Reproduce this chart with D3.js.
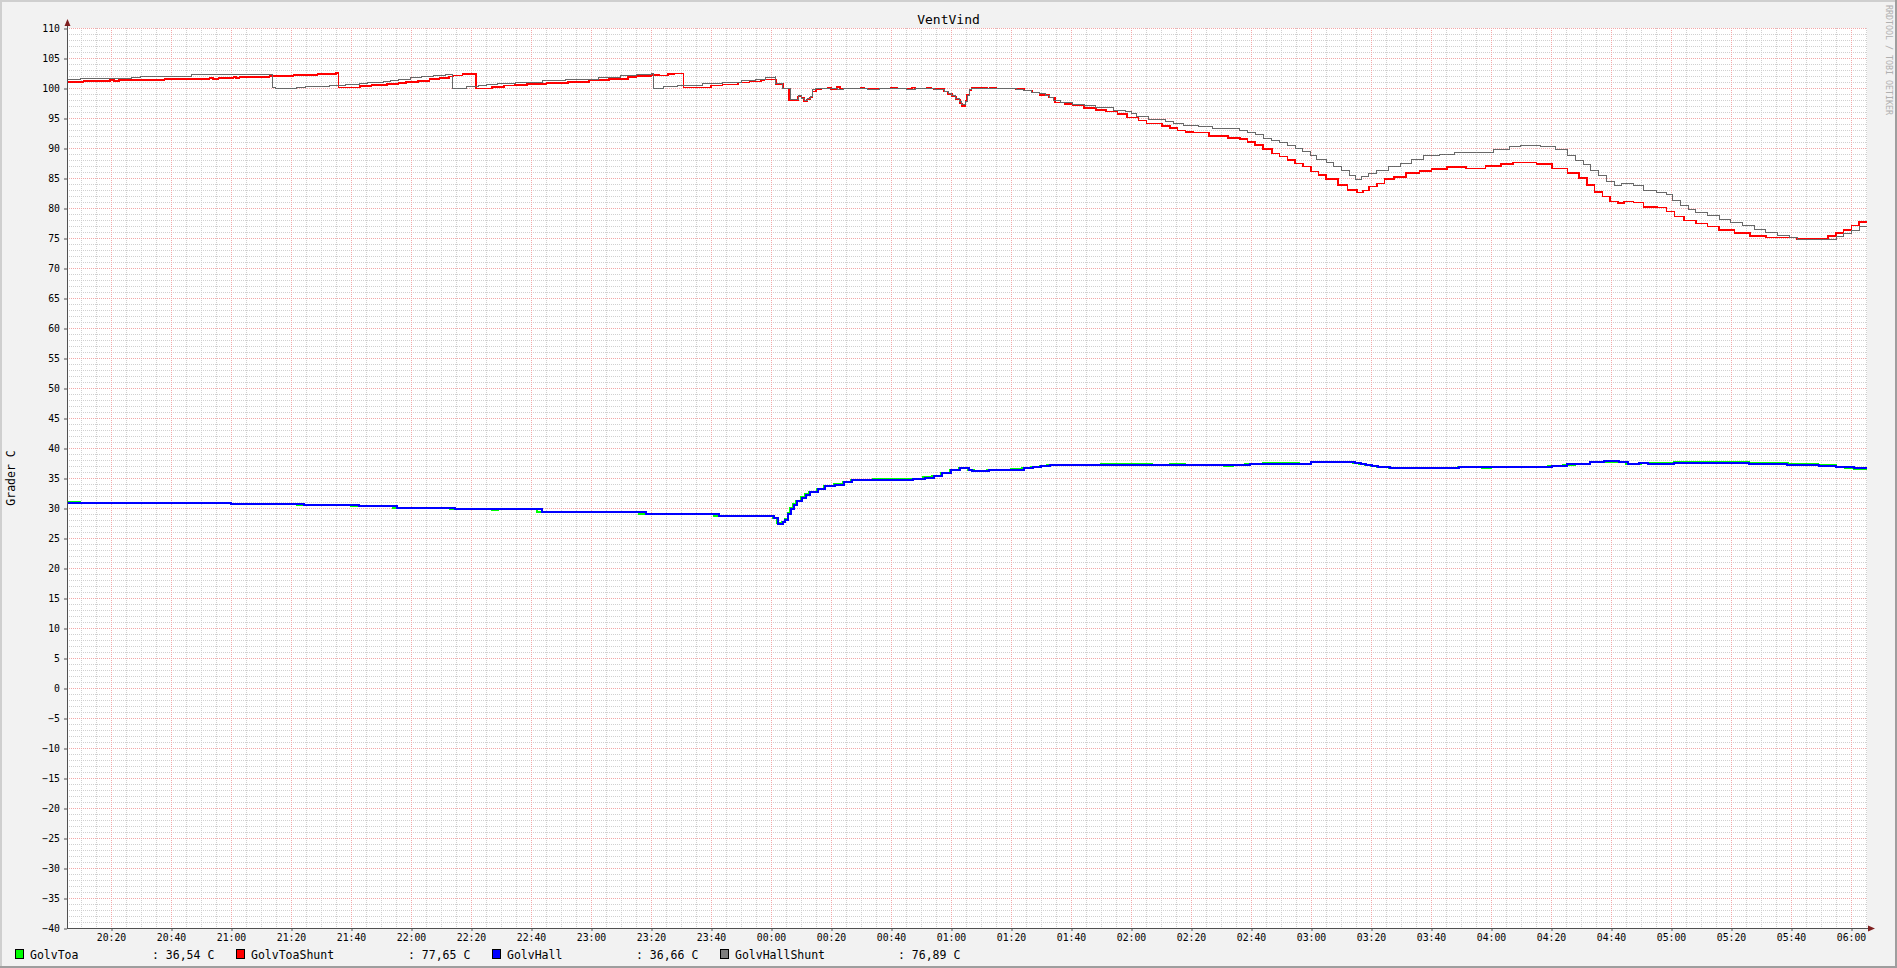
<!DOCTYPE html>
<html>
<head>
<meta charset="utf-8">
<script src="https://cdnjs.cloudflare.com/ajax/libs/d3/7.8.5/d3.min.js"></script>
<style>
  html, body { margin: 0; padding: 0; background: #f2f2f2; }
  svg { display: block; }
  text { font-family: "DejaVu Sans Mono", monospace; }
</style>
</head>
<body>
<svg id="chart" width="1897" height="968"></svg>
<script>
// ---------- DATA (minutes after 20:00, value in °C), step series ----------
const chartTitle = "VentVind";
const yAxisTitle = "Grader C";
const watermark = "RRDTOOL / TOBI OETIKER";
const startMinute = 5.333;   // 20:05:20
const endMinute = 605.333;   // 06:05:20

const yTicks = [-40,-35,-30,-25,-20,-15,-10,-5,0,5,10,15,20,25,30,35,40,45,50,55,60,65,70,75,80,85,90,95,100,105,110];
const xTickLabels = ["20:20","20:40","21:00","21:20","21:40","22:00","22:20","22:40","23:00","23:20","23:40",
  "00:00","00:20","00:40","01:00","01:20","01:40","02:00","02:20","02:40","03:00","03:20","03:40",
  "04:00","04:20","04:40","05:00","05:20","05:40","06:00"];

const seriesNames = ["GolvToa", "GolvToaShunt", "GolvHall", "GolvHallShunt"];
const seriesColors = ["#00ff00", "#ff0000", "#0000ff", "#7f7f7f"];
const lineColors = ["#00ff00", "#ff0000", "#0000ff", "#686868"];
const lastValues = ["36,54 C", "77,65 C", "36,66 C", "76,89 C"];

const golvToa = [
  [5.33,30.95],[9.8,30.9],[17,30.8],[60,30.75],[68,30.7],[82,30.5],[100,30.3],[104,30.35],[106,30.3],
  [114,30.05],[123,30.0],[125,30.05],[133,29.8],[147,29.75],[149,29.8],[162,29.4],[181,29.3],[184,29.4],
  [196,29.05],[209,29.0],[211,29.05],[221,28.7],[233,28.65],[235,28.7],[240.5,28.4],[242,27.5],[243.6,27.7],
  [244.5,28.1],[245.5,29.1],[246.4,30.0],[247.4,30.6],[248.2,31.2],[249.9,31.8],[251.4,32.3],[252.8,32.7],
  [255.2,33.2],[257.7,33.65],[261,34.0],[263.9,34.35],[266.8,34.65],[274,34.8],[287,34.85],[290.8,35.1],
  [293.8,35.35],[296.8,35.85],[299.7,36.35],[302.6,36.75],[304.2,36.6],[305.6,36.3],[307.5,36.1],[312,36.35],
  [320,36.45],[323.8,36.65],[326.8,36.85],[329.7,37.05],[332,37.25],[350,37.35],[367,37.2],[373,37.3],[378,37.2],
  [391,37.05],[394,37.1],[398,37.3],[404,37.45],[412,37.5],[416,37.4],[420,37.7],[430,37.6],[434,37.55],
  [436,37.3],[438,37.15],[440,36.95],[442,36.85],[446,36.65],[450,36.6],[466,36.7],[469,36.8],[477,36.75],
  [480,36.8],[495,36.85],[499,37.0],[504,37.2],[508,37.35],[513,37.6],[516,37.75],[522,37.6],[525,37.4],
  [530,37.55],[533,37.45],[541,37.6],[566,37.5],[579,37.3],[589,37.1],[595,36.85],[598,36.7],[601,36.54]
];

const golvToaShunt = [
  [5.33,101.0],[10.8,101.17],[19.7,101.33],[21,101.17],[22.7,101.33],[37.8,101.5],[52.8,101.67],[53.9,101.5],
  [55.8,101.67],[60.8,101.83],[61.7,101.67],[62.8,101.83],[72.8,102.0],[80.8,102.17],[88.8,102.33],[95,102.5],
  [95.8,100.1],[102.9,100.33],[106.8,100.5],[112,100.67],[115.8,100.83],[118.4,101.0],[122.3,101.2],[126.2,101.5],
  [129.5,101.67],[132.7,101.9],[134,102.1],[137.2,102.3],[141.1,102.44],
  [141.7,99.94],[147,100.2],[150.9,100.4],[154.7,100.5],[158.6,100.67],[165.1,100.83],[172.3,101.05],[179.4,101.33],
  [185.9,101.5],[192.4,101.8],[195,102.0],[200.1,102.2],[202.7,102.1],[205.6,102.3],[207.8,102.44],
  [210.8,100.1],[219.9,100.4],[223.8,100.6],[229,100.9],[232.8,101.1],[236.7,101.3],[237.8,101.4],
  [241.6,100.67],[243.9,99.94],[246,98.0],[249,98.6],[250.1,98.3],[251,97.8],[252,98.1],[253,98.4],[253.8,99.4],
  [254.9,99.8],[256.8,99.94],[258.8,100.1],[260,99.8],[262,100.2],[263,99.94],[270,100.1],[271,99.94],[280,100.1],
  [282,99.94],[287,100.1],[288,99.94],[292,100.1],[293.5,99.94],[294.4,99.8],[297.7,99.4],[299,99.0],[300.3,98.6],
  [301.6,98.1],[302.9,97.4],[303.6,97.0],[304.8,97.8],[305.4,98.8],[306.1,99.7],[306.8,100.0],[308.5,100.1],
  [312,99.94],[313,100.1],[315,99.94],[321.7,99.8],[324.3,99.6],[326.9,99.25],[329.5,98.8],[332.7,98.4],
  [334.6,97.6],[337.9,97.3],[340.5,97.1],[344.4,96.7],[348.3,96.3],[351.6,96.1],[355.5,95.7],[358.6,95.1],
  [362.5,94.6],[365.1,94.1],[370.3,93.7],[372.9,93.3],[375.5,92.9],[378.1,92.7],[380.7,92.6],[385.9,92.0],
  [392.4,91.7],[396.3,91.5],[398.8,91.0],[401.4,90.5],[404,89.8],[406.9,89.1],[409.5,88.6],[412.1,88.0],
  [414.7,87.4],[417.3,86.9],[419.9,86.1],[422.5,85.5],[425,84.8],[428.9,83.8],[432.2,83.0],[435.4,82.6],
  [437.4,82.9],[439.3,83.6],[441.9,84.1],[444.5,84.8],[447.7,85.2],[451.6,85.8],[456.2,86.2],[460.1,86.5],
  [465.3,86.8],[471.7,86.6],[478.2,87.0],[483.4,87.3],[487.3,87.6],[495.1,87.3],[500.3,86.6],[505.5,85.8],
  [509.4,85.0],[512,83.8],[514.5,82.7],[517.1,81.9],[519.7,81.1],[522.3,80.8],[524.3,81.1],[527.5,80.9],
  [530.8,80.2],[535.3,80.1],[538.5,79.4],[541.1,78.6],[544.4,77.9],[548.3,77.4],[552.2,76.9],[556,76.3],
  [561.2,75.8],[566.4,75.3],[571.6,75.1],[582,74.8],[587.2,74.9],[592.3,75.3],[595,75.8],[597.5,76.3],
  [600.2,77.1],[602.7,77.65]
];

const golvHall = [
  [5.33,30.9],[9.8,30.8],[60,30.7],[84.3,30.5],[102.6,30.3],[115.2,30.05],[134.6,29.8],[163.6,29.4],[198.4,29.05],
  [222.6,28.7],[241,28.4],[242.3,27.4],[243.9,27.7],[244.8,28.0],[245.8,29.0],[246.7,29.9],[247.7,30.5],[248.5,31.1],
  [250.2,31.7],[251.7,32.2],[253.1,32.6],[255.5,33.1],[258,33.6],[261.3,33.9],[264.2,34.3],[267.1,34.6],[275.8,34.7],
  [287.4,34.8],[291.3,35.05],[294.2,35.3],[297.1,35.8],[300,36.3],[302.9,36.7],[304.5,36.6],[305.9,36.3],[306.9,36.15],
  [312.7,36.3],[321.4,36.4],[324.3,36.6],[327.2,36.8],[330.1,37.0],[333,37.2],[391,37.1],[399.7,37.3],[405.5,37.4],
  [420,37.65],[434.6,37.55],[436.5,37.3],[438.4,37.2],[440.4,37.0],[442.3,36.9],[446.2,36.7],[450,36.6],[469.4,36.8],
  [496.5,36.9],[500.3,37.05],[505.2,37.3],[508.1,37.4],[512.9,37.7],[517.7,37.8],[522.6,37.6],[525.5,37.4],
  [529.3,37.55],[532.2,37.4],[541,37.55],[566.1,37.4],[578.7,37.2],[589.3,37.05],[595.1,36.9],[598,36.8],[600.9,36.66]
];

const golvHallShunt = [
  [5.33,101.45],[9.7,101.65],[26.9,101.82],[29.7,102.0],[46.9,102.17],[63.6,102.33],
  [73.9,100.1],[74.7,99.9],[81.7,100.1],[84.7,100.28],[92.8,100.44],[98,100.6],[102.9,100.78],[105.5,100.95],
  [110.7,101.1],[113.2,101.3],[115.8,101.5],[119.7,101.7],[123.6,101.9],[127.5,102.1],[131.4,102.33],
  [133.7,99.94],[138.5,100.2],[142.4,100.4],[145,100.6],[148.9,100.78],[154.7,100.95],[163.8,101.2],[171.6,101.5],
  [182.6,101.8],[189.8,102.1],[195,102.33],[200.1,102.44],
  [200.7,99.94],[204.3,100.33],[208.8,100.5],[217.3,100.67],[223.8,100.9],[230.2,101.2],[234.8,101.45],[238,101.8],
  [241.5,102.0],[241.6,100.8],[243.9,99.94],[246.5,98.1],[249,98.7],[250,98.3],[251,98.0],[252,98.3],[253,98.6],
  [253.8,99.7],[254.9,99.94],[262,99.8],[264,99.94],[272,99.8],[276,99.94],[285,99.8],[288,99.94],[294.4,99.8],
  [297.7,99.5],[299,99.1],[300.3,98.7],[301.6,98.3],[302.9,97.7],[303.6,97.3],[304.8,97.8],[305.4,98.8],[306.1,99.7],
  [306.8,99.94],[321.7,99.8],[324.3,99.6],[326.9,99.3],[329.5,99.06],[331.4,98.8],[332.7,98.4],[334,97.9],
  [336.6,97.6],[340.5,97.3],[344.4,97.1],[348.3,96.8],[354.1,96.3],[358,96.1],[360,95.8],[361.9,95.2],[365.8,94.8],
  [371.6,94.5],[374.2,94.1],[377.5,93.7],[381.3,93.8],[382.6,93.56],[387.2,93.2],[396.3,93.0],[398.8,92.6],
  [401.4,92.2],[404,91.6],[406.9,91.3],[409.5,90.9],[412.1,90.4],[414.7,89.9],[417.3,89.4],[419.9,88.7],
  [421.8,88.1],[425,87.6],[427.6,86.9],[430.2,86.2],[432.8,85.5],[434.8,84.7],[436.7,85.2],[439.3,85.8],
  [441.9,86.3],[445.8,86.9],[449.7,87.4],[453.6,88.1],[457.5,88.7],[462.7,89.0],[467.9,89.3],[474.3,89.25],
  [480.8,89.8],[486,90.2],[489.9,90.45],[496.4,90.2],[501.6,89.7],[505.5,88.8],[508.1,88.0],[510.7,87.2],
  [513.2,86.3],[515.8,85.5],[518.4,84.4],[521,83.8],[523.6,84.1],[527.5,83.7],[530.8,83.0],[535.3,82.6],
  [538.5,82.2],[540.5,81.3],[543.1,80.5],[545.7,79.8],[548.3,79.2],[552.2,78.7],[556,78.1],[559.9,77.6],
  [563.8,77.1],[567.7,76.5],[571.6,76.0],[575.5,75.5],[579.4,75.1],[582,74.8],[587.2,74.67],[593,74.8],
  [595,75.2],[597.5,75.8],[600.2,76.3],[602.7,76.89]
];

// ---------- CHART ----------
const W = 1897, H = 968;
const plot = { left: 67, right: 1867, top: 28, bottom: 928 };
const BASE = new Date(2024, 0, 1, 20, 0, 0).getTime();
const toDate = m => new Date(BASE + m * 60000);
const parseLabel = s => {
  const [hh, mm] = s.split(":").map(Number);
  let m = (hh - 20) * 60 + mm;
  if (m < 0) m += 24 * 60;
  return toDate(m);
};

const svg = d3.select("#chart");

const x = d3.scaleTime().domain([toDate(startMinute), toDate(endMinute)]).range([plot.left, plot.right]);
const y = d3.scaleLinear().domain([yTicks[0], yTicks[yTicks.length - 1]]).range([plot.bottom, plot.top]);

// background + shaded border
svg.append("rect").attr("x", 0).attr("y", 0).attr("width", W).attr("height", H).attr("fill", "#f2f2f2");
svg.append("rect").attr("x", 0).attr("y", 0).attr("width", W).attr("height", 2).attr("fill", "#cfcfcf");
svg.append("rect").attr("x", 0).attr("y", 0).attr("width", 2).attr("height", H).attr("fill", "#cfcfcf");
svg.append("rect").attr("x", 0).attr("y", H - 2).attr("width", W).attr("height", 2).attr("fill", "#9e9e9e");
svg.append("rect").attr("x", W - 2).attr("y", 0).attr("width", 2).attr("height", H).attr("fill", "#9e9e9e");

// canvas
svg.append("rect").attr("x", plot.left).attr("y", plot.top)
  .attr("width", plot.right - plot.left).attr("height", plot.bottom - plot.top).attr("fill", "#ffffff");

const crisp = v => Math.round(v) + 0.5;
const grid = svg.append("g");
const minorColor = "#d0d0d0", majorColor = "#f3a8a8";

// minor vertical grid (every 5 min)
const minorX = x.ticks(d3.timeMinute.every(5));
grid.selectAll(".vmin").data(minorX).enter().append("line")
  .attr("x1", d => crisp(x(d))).attr("x2", d => crisp(x(d)))
  .attr("y1", plot.top).attr("y2", plot.bottom)
  .attr("stroke", minorColor).attr("stroke-dasharray", "1,1").attr("stroke-width", 1);
// minor horizontal grid (every 1 unit)
const minorY = d3.range(yTicks[0], yTicks[yTicks.length - 1] + 1, 1);
grid.selectAll(".hmin").data(minorY).enter().append("line")
  .attr("x1", plot.left).attr("x2", plot.right)
  .attr("y1", d => crisp(y(d))).attr("y2", d => crisp(y(d)))
  .attr("stroke", minorColor).attr("stroke-dasharray", "1,1").attr("stroke-width", 1);
// major grid
const majorX = xTickLabels.map(parseLabel);
grid.selectAll(".vmaj").data(majorX).enter().append("line")
  .attr("x1", d => crisp(x(d))).attr("x2", d => crisp(x(d)))
  .attr("y1", plot.top).attr("y2", plot.bottom)
  .attr("stroke", majorColor).attr("stroke-dasharray", "1,1").attr("stroke-width", 1);
grid.selectAll(".hmaj").data(yTicks).enter().append("line")
  .attr("x1", plot.left).attr("x2", plot.right)
  .attr("y1", d => crisp(y(d))).attr("y2", d => crisp(y(d)))
  .attr("stroke", majorColor).attr("stroke-dasharray", "1,1").attr("stroke-width", 1);

// series
const series = [golvToa, golvToaShunt, golvHall, golvHallShunt];
const widths = [2, 1.6, 2, 1];
const line = d3.line().x(d => x(toDate(d[0]))).y(d => y(d[1])).curve(d3.curveStepAfter);
series.forEach((s, i) => {
  const pts = s.concat([[endMinute, s[s.length - 1][1]]]);
  svg.append("path").datum(pts)
    .attr("d", line)
    .attr("fill", "none")
    .attr("stroke", lineColors[i])
    .attr("stroke-width", widths[i])
    .attr("shape-rendering", "crispEdges");
});

// axes
const axisColor = "#505050";
const yAxis = d3.axisLeft(y).tickValues(yTicks).tickFormat(d3.format("d")).tickSizeInner(3).tickSizeOuter(0).tickPadding(4);
const gy = svg.append("g").attr("transform", `translate(${plot.left},0)`).call(yAxis);
gy.select(".domain").remove();
gy.selectAll(".tick line").attr("stroke", axisColor).attr("transform", "translate(0,0.5)");
gy.selectAll(".tick text").attr("font-family", "DejaVu Sans Mono").attr("font-size", "9.8px").attr("fill", "#000");

const xAxis = d3.axisBottom(x).tickValues(majorX).tickFormat(d3.timeFormat("%H:%M")).tickSizeInner(3).tickSizeOuter(0).tickPadding(3);
const gx = svg.append("g").attr("transform", `translate(0,${plot.bottom})`).call(xAxis);
gx.select(".domain").remove();
gx.selectAll(".tick line").attr("stroke", axisColor).attr("transform", "translate(0.5,0)");
gx.selectAll(".tick text").attr("font-family", "DejaVu Sans Mono").attr("font-size", "9.8px").attr("fill", "#000");

// axis lines + arrows
svg.append("line").attr("x1", plot.left + 0.5).attr("x2", plot.left + 0.5)
  .attr("y1", plot.bottom + 0.5).attr("y2", plot.top - 5).attr("stroke", axisColor);
svg.append("line").attr("x1", plot.left).attr("x2", plot.right + 3)
  .attr("y1", plot.bottom + 0.5).attr("y2", plot.bottom + 0.5).attr("stroke", axisColor);
svg.append("path")
  .attr("d", `M${plot.left + 0.5},${plot.top - 9} L${plot.left - 2.5},${plot.top - 2} L${plot.left + 3.5},${plot.top - 2} Z`)
  .attr("fill", "#7f1f1f");
svg.append("path")
  .attr("d", `M${plot.right + 8},${plot.bottom + 0.5} L${plot.right + 1},${plot.bottom - 2.5} L${plot.right + 1},${plot.bottom + 3.5} Z`)
  .attr("fill", "#7f1f1f");

// title
svg.append("text").attr("x", W / 2).attr("y", 23.5).attr("text-anchor", "middle")
  .attr("font-size", "13px").attr("fill", "#000").text(chartTitle);

// y axis title
svg.append("text").attr("transform", "translate(15,478) rotate(-90)").attr("text-anchor", "middle")
  .attr("font-size", "11.5px").attr("fill", "#000").text(yAxisTitle);

// watermark
svg.append("text").attr("transform", "translate(1885.5,5) rotate(90)").attr("text-anchor", "start")
  .attr("font-size", "8.3px").attr("fill", "#b0b0b0").text(watermark);

// legend
const legendBoxX = [15, 236, 492, 720];
const legendNameX = [30, 251, 507, 735];
const legendValX = [152, 408, 636, 898];
const lg = svg.append("g");
seriesNames.forEach((n, i) => {
  lg.append("rect").attr("x", legendBoxX[i] + 0.5).attr("y", 949.5).attr("width", 8).attr("height", 9)
    .attr("fill", seriesColors[i]).attr("stroke", "#000").attr("stroke-width", 1);
  lg.append("text").attr("x", legendNameX[i]).attr("y", 958.5).attr("font-size", "11.5px").attr("fill", "#000").text(n);
  lg.append("text").attr("x", legendValX[i]).attr("y", 958.5).attr("font-size", "11.5px").attr("fill", "#000")
    .attr("xml:space", "preserve").text(": " + lastValues[i]);
});
</script>
</body>
</html>
